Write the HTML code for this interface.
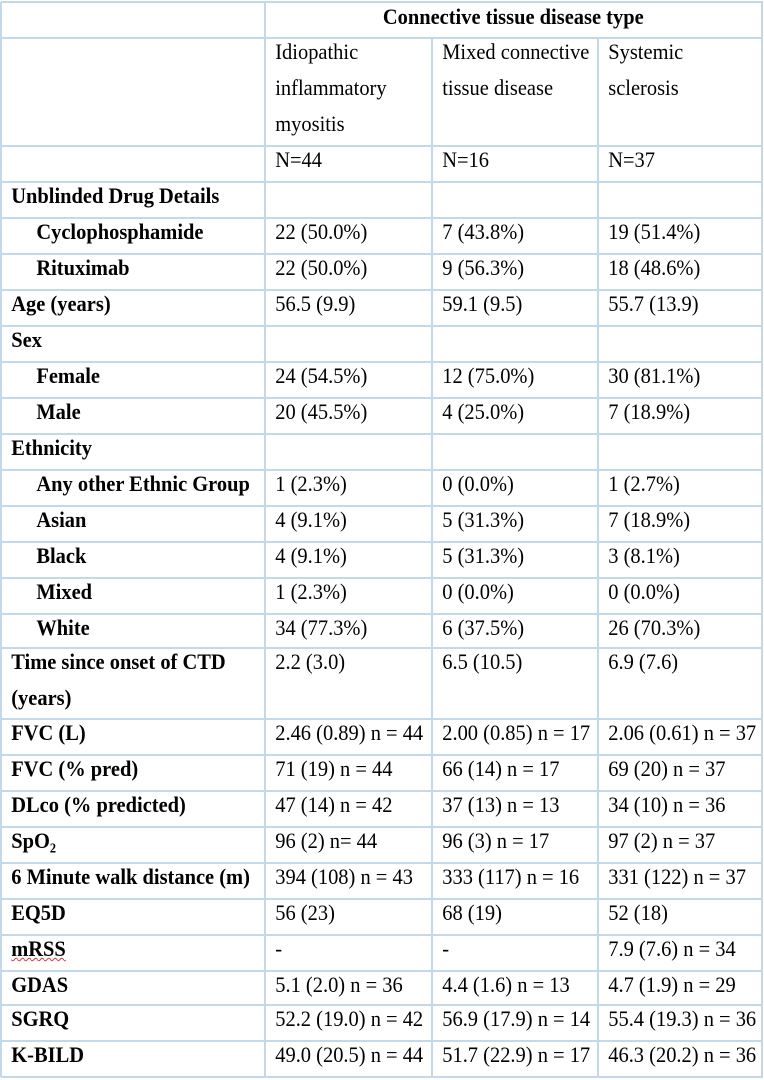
<!DOCTYPE html>
<html><head><meta charset="utf-8"><style>
html,body{margin:0;padding:0;background:#fff;}
body{width:764px;height:1080px;position:relative;overflow:hidden;font-family:"Liberation Serif",serif;font-size:22px;color:#000;}
.c{position:absolute;box-sizing:border-box;line-height:36px;white-space:nowrap;}
.c>span.t{display:inline-block;transform:scaleX(0.93);transform-origin:0 0;padding-left:11px;}
.c.i>span.t{padding-left:38px;}
.b{font-weight:bold;}
.hl{position:absolute;left:1px;width:762px;height:2px;background:#c4d8ec;}
.vl{position:absolute;width:2px;background:#c4d8ec;}
.sq{text-decoration:underline wavy #d33;text-decoration-thickness:1px;}
</style></head><body>
<script>
const rowTops=[2,38,146,182,218,254,290,326,362,398,434,470,506,542,578,614,648,719,755,791,827,863,899,935,971,1005,1041,1077];
const colX=[1,265,432,598,762];
const labels=["","","","Unblinded Drug Details","Cyclophosphamide","Rituximab","Age (years)","Sex","Female","Male","Ethnicity","Any other Ethnic Group","Asian","Black","Mixed","White","Time since onset of CTD<br>(years)","FVC (L)","FVC (% pred)","DLco (% predicted)","SpO₂","6 Minute walk distance (m)","EQ5D","<span class='sq'>mRSS</span>","GDAS","SGRQ","K-BILD"];
const indent=[4,5,8,9,11,12,13,14,15];
const vals=[
 null,
 ["Idiopathic<br>inflammatory<br>myositis","Mixed connective<br>tissue disease","Systemic<br>sclerosis"],
 ["N=44","N=16","N=37"],
 ["","",""],
 ["22 (50.0%)","7 (43.8%)","19 (51.4%)"],
 ["22 (50.0%)","9 (56.3%)","18 (48.6%)"],
 ["56.5 (9.9)","59.1 (9.5)","55.7 (13.9)"],
 ["","",""],
 ["24 (54.5%)","12 (75.0%)","30 (81.1%)"],
 ["20 (45.5%)","4 (25.0%)","7 (18.9%)"],
 ["","",""],
 ["1 (2.3%)","0 (0.0%)","1 (2.7%)"],
 ["4 (9.1%)","5 (31.3%)","7 (18.9%)"],
 ["4 (9.1%)","5 (31.3%)","3 (8.1%)"],
 ["1 (2.3%)","0 (0.0%)","0 (0.0%)"],
 ["34 (77.3%)","6 (37.5%)","26 (70.3%)"],
 ["2.2 (3.0)","6.5 (10.5)","6.9 (7.6)"],
 ["2.46 (0.89) n = 44","2.00 (0.85) n = 17","2.06 (0.61) n = 37"],
 ["71 (19) n = 44","66 (14) n = 17","69 (20) n = 37"],
 ["47 (14) n = 42","37 (13) n = 13","34 (10) n = 36"],
 ["96 (2) n= 44","96 (3) n = 17","97 (2) n = 37"],
 ["394 (108) n = 43","333 (117) n = 16","331 (122) n = 37"],
 ["56 (23)","68 (19)","52 (18)"],
 ["-","-","7.9 (7.6) n = 34"],
 ["5.1 (2.0) n = 36","4.4 (1.6) n = 13","4.7 (1.9) n = 29"],
 ["52.2 (19.0) n = 42","56.9 (17.9) n = 14","55.4 (19.3) n = 36"],
 ["49.0 (20.5) n = 44","51.7 (22.9) n = 17","46.3 (20.2) n = 36"]
];
const body=document.body;
function slug(s){return s.replace(/<[^>]+>/g,' ').toLowerCase().replace(/[^a-z0-9]+/g,'-').replace(/^-|-$/g,'')||'blank';}
rowTops.forEach(y=>{const d=document.createElement('div');d.className='hl';d.style.top=(y-1)+'px';


body.appendChild(d);});
colX.forEach((x,i)=>{const d=document.createElement('div');d.className='vl';d.style.left=(x-1)+'px';
const top=(i===2||i===3)?rowTops[1]:rowTops[0];d.style.top=top+'px';d.style.height=(rowTops[rowTops.length-1]-top)+'px';


body.appendChild(d);});
const h=document.createElement('div');h.className='c b';h.style.left=colX[1]+'px';h.style.top=(rowTops[0]-3)+'px';h.style.width=(colX[4]-colX[1])+'px';h.style.textAlign='center';
h.innerHTML='<span style="display:inline-block;transform:scaleX(0.93)">Connective tissue disease type</span>';


body.appendChild(h);
for(let r=1;r<rowTops.length-1;r++){
 const top=rowTops[r];const off=-4;
 const L=document.createElement('div');L.className='c b'+(indent.includes(r)?' i':'');L.style.left=colX[0]+'px';L.style.top=(top+off)+'px';L.style.width=(colX[1]-colX[0])+'px';L.innerHTML='<span class="t">'+labels[r]+'</span>';
 
 
 body.appendChild(L);
 for(let c=0;c<3;c++){const v=vals[r][c];if(!v)continue;const d=document.createElement('div');d.className='c';d.style.left=colX[c+1]+'px';d.style.top=(top+off)+'px';d.style.width=(colX[c+2]-colX[c+1])+'px';d.innerHTML='<span class="t">'+v+'</span>';
 
 
 body.appendChild(d);}
}
</script>
</body></html>
